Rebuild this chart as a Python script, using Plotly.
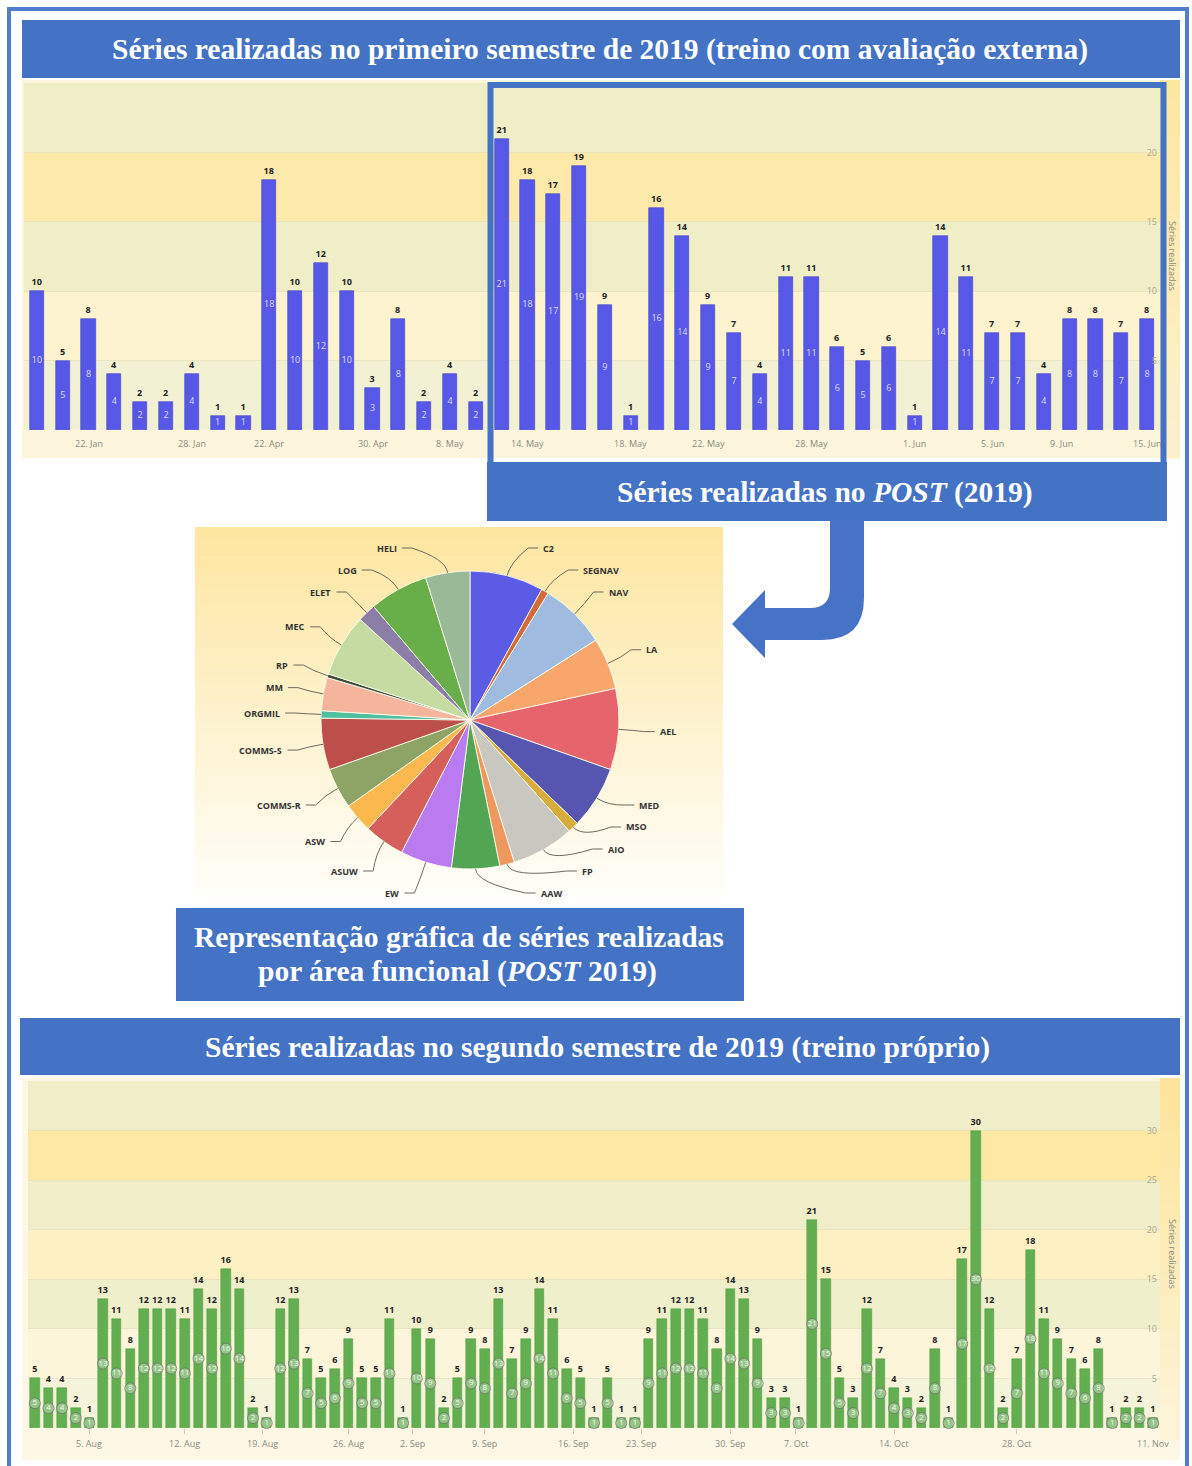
import math
import plotly.graph_objects as go

W, H = 1192, 1466

# ---------------- data ----------------
first_half_values = [10, 5, 8, 4, 2, 2, 4, 1, 1, 18, 10, 12, 10, 3, 8, 2, 4, 2]
post_values = [21, 18, 17, 19, 9, 1, 16, 14, 9, 7, 4, 11, 11, 6, 5, 6, 1, 14, 11, 7, 7,
               4, 8, 8, 7, 8]
top_tick_pos = [2, 6, 9, 13, 16, 19, 23, 26, 30, 34, 37, 39.7, 43]
top_tick_text = ["22. Jan", "28. Jan", "22. Apr", "30. Apr", "8. May", "14. May", "18. May",
                 "22. May", "28. May", "1. Jun", "5. Jun", "9. Jun", "15. Jun"]

second_half_values = [5, 4, 4, 2, 1, 13, 11, 8, 12, 12, 12, 11, 14, 12, 16, 14, 2, 1, 12, 13,
                      7, 5, 6, 9, 5, 5, 11, 1, 10, 9, 2, 5, 9, 8, 13, 7, 9, 14, 11, 6,
                      5, 1, 5, 1, 1, 9, 11, 12, 12, 11, 8, 14, 13, 9, 3, 3, 1, 21, 15, 5,
                      3, 12, 7, 4, 3, 2, 8, 1, 17, 30, 12, 2, 7, 18, 11, 9, 7, 6, 8, 1,
                      2, 2, 1]
bottom_tick_pos = [4, 11, 16.7, 23, 27.7, 33, 39.5, 44.5, 51, 55.8, 63, 72, 82]
bottom_tick_text = ["5. Aug", "12. Aug", "19. Aug", "26. Aug", "2. Sep", "9. Sep", "16. Sep",
                    "23. Sep", "30. Sep", "7. Oct", "14. Oct", "28. Oct", "11. Nov"]

areas = ["C2", "SEGNAV", "NAV", "LA", "AEL", "MED", "MSO", "AIO", "FP", "AAW", "EW", "ASUW",
         "ASW", "COMMS-R", "COMMS-S", "ORGMIL", "MM", "RP", "MEC", "ELET", "LOG", "HELI"]
area_counts = [20, 2, 18, 14, 22, 17, 3, 17, 4, 13, 14, 11, 8, 11, 14, 2, 9, 1, 17, 5, 16, 12]

# ---------------- styles ----------------
area_colors = ["#5b5be6", "#d46a3a", "#9fbbe0", "#f8a66c", "#e6646c", "#5656b0", "#d8ac3c",
               "#c9c8c0", "#ee9860", "#52a552", "#b97bef", "#d65f5c", "#fbb84f", "#8ea466",
               "#bd4f4a", "#4fbfa0", "#f5b59c", "#3d4a3d", "#c5dba2", "#8b7fa8", "#68af4a",
               "#99b997"]
BLUE = "#4472c4"
TITLE_FONT = dict(family="Liberation Serif", size=29.5, color="white", weight="bold")
LABEL_FONT = "Open Sans"
AXIS_FONT = dict(family=LABEL_FONT, size=9, color="#8a8a80")


def fx(p):
    return p / W


def fy(p):
    return 1 - p / H


shapes = []
annotations = []


def hex_rgb(c):
    c = c.lstrip("#")
    return tuple(int(c[i:i + 2], 16) for i in (0, 2, 4))


def mix(c1, c2, t):
    a, b = hex_rgb(c1), hex_rgb(c2)
    return "rgb(%d,%d,%d)" % tuple(round(a[i] + (b[i] - a[i]) * t) for i in range(3))


def rect(x0, y0, x1, y1, fill, layer="below", line=None):
    shapes.append(dict(type="rect", xref="paper", yref="paper",
                       x0=fx(x0), x1=fx(x1), y0=fy(y1), y1=fy(y0),
                       fillcolor=fill, line=line or dict(width=0), layer=layer))


def vgrad(x0, y0, x1, y1, ctop, cbot, n=40):
    step = (y1 - y0) / n
    for i in range(n):
        rect(x0, y0 + i * step, x1, y0 + (i + 1) * step + 0.6, mix(ctop, cbot, i / (n - 1)))


# ---------------- panel backgrounds ----------------
rect(22, 80, 1180, 458, "#fdf5dc")
vgrad(1160, 80, 1180, 458, "#fde6a0", "#fdf1cc", n=20)
rect(22, 1078, 1180, 1460, "#fdf8e6")
vgrad(1160, 1078, 1180, 1440, "#fde49a", "#fdf4d8", n=20)
vgrad(195, 527, 723, 904, "#fde6a0", "#fffefa", n=50)

# horizontal bands behind the bars
top_bands = [(0, 5, "#f3f1d3"), (5, 10, "#fdf3cf"), (10, 15, "#efeec7"),
             (15, 20, "#fde9a9"), (20, 25, "#efeec6")]
for y0, y1, c in top_bands:
    shapes.append(dict(type="rect", xref="x domain", yref="y", x0=0, x1=1, y0=y0, y1=y1,
                       fillcolor=c, line=dict(width=0), layer="below"))
bottom_bands = [(0, 5, "#f5f3da"), (5, 10, "#fdf5da"), (10, 15, "#f0efcc"),
                (15, 20, "#fdf0c2"), (20, 25, "#f0eec8"), (25, 30, "#fde9a4"),
                (30, 35, "#f0eec8")]
for y0, y1, c in bottom_bands:
    shapes.append(dict(type="rect", xref="x2 domain", yref="y2", x0=0, x1=1, y0=y0, y1=y1,
                       fillcolor=c, line=dict(width=0), layer="below"))

fig = go.Figure()

# ---------------- first semester + POST bars ----------------
top_values = first_half_values + post_values
top_x = list(range(len(top_values)))
fig.add_trace(go.Bar(
    x=top_x, y=top_values, width=0.55, xaxis="x", yaxis="y",
    marker=dict(color="#5858e8", line=dict(color="#3f3fc4", width=0.6)),
    text=top_values, textposition="outside", constraintext="none", cliponaxis=False,
    textfont=dict(family=LABEL_FONT, size=9, color="#222", weight="bold"),
    hoverinfo="x+y",
))
fig.add_trace(go.Scatter(
    x=top_x, y=[v / 2 for v in top_values], mode="text", text=top_values,
    xaxis="x", yaxis="y", cliponaxis=False,
    textfont=dict(family=LABEL_FONT, size=9, color="#dcdcf6"), hoverinfo="skip",
))

# ---------------- second semester bars ----------------
bottom_x = list(range(len(second_half_values)))
fig.add_trace(go.Bar(
    x=bottom_x, y=second_half_values, width=0.7, xaxis="x2", yaxis="y2",
    marker=dict(color="#62ae50", line=dict(color="#4f9a40", width=0.5)),
    text=second_half_values, textposition="outside", constraintext="none", cliponaxis=False,
    textfont=dict(family=LABEL_FONT, size=9, color="#222", weight="bold"),
    hoverinfo="x+y",
))
fig.add_trace(go.Scatter(
    x=bottom_x, y=[v / 2 for v in second_half_values], mode="markers+text",
    text=second_half_values, textposition="middle center",
    xaxis="x2", yaxis="y2", cliponaxis=False,
    marker=dict(symbol="circle", size=11, color="rgba(240,240,230,0.35)",
                line=dict(color="rgba(110,110,110,0.75)", width=1)),
    textfont=dict(family=LABEL_FONT, size=8, color="#f6f6f6"), hoverinfo="skip",
))

# date labels under both bar charts
for pos, txt in zip(top_tick_pos, top_tick_text):
    annotations.append(dict(x=pos, y=fy(443), xref="x", yref="paper", text=txt,
                            showarrow=False, xanchor="center", yanchor="middle",
                            font=AXIS_FONT))
for pos, txt in zip(bottom_tick_pos, bottom_tick_text):
    annotations.append(dict(x=pos, y=fy(1443), xref="x2", yref="paper", text=txt,
                            showarrow=False, xanchor="center", yanchor="middle",
                            font=AXIS_FONT))

# vertical axis titles on the right
for yc in (256, 1254):
    annotations.append(dict(x=fx(1173), y=fy(yc), xref="paper", yref="paper",
                            text="Séries realizadas", textangle=90, showarrow=False,
                            xanchor="center", yanchor="middle",
                            font=dict(family=LABEL_FONT, size=9, color="#8a8a80")))

# ---------------- functional-area pie ----------------
CX, CY, R = 470, 720, 149
fig.add_trace(go.Pie(
    labels=areas, values=area_counts, sort=False, direction="clockwise", rotation=0,
    domain=dict(x=[fx(CX - R), fx(CX + R)], y=[fy(CY + R), fy(CY - R)]),
    marker=dict(colors=area_colors, line=dict(color="rgba(255,255,240,0.85)", width=1)),
    textinfo="none", hoverinfo="label+value", showlegend=False,
))

# outside labels with soft connectors, spread vertically so they do not collide
total = sum(area_counts)
mids, cum = [], 0
for v in area_counts:
    mids.append(360.0 * (cum + v / 2) / total)
    cum += v
RL = 185
YMIN, YMAX, GAP = 548, 893, 22


def spread(idx):
    idx = sorted(idx, key=lambda i: CY - RL * math.cos(math.radians(mids[i])))
    ys = [CY - RL * math.cos(math.radians(mids[i])) for i in idx]
    for k in range(len(ys)):
        ys[k] = max(ys[k], YMIN if k == 0 else ys[k - 1] + GAP)
    for k in range(len(ys) - 1, -1, -1):
        ys[k] = min(ys[k], YMAX if k == len(ys) - 1 else ys[k + 1] - GAP)
    return dict(zip(idx, ys))


label_y = {}
label_y.update(spread([i for i, m in enumerate(mids) if m < 180]))
label_y.update(spread([i for i, m in enumerate(mids) if m >= 180]))

for i, name in enumerate(areas):
    m = math.radians(mids[i])
    right = mids[i] < 180
    ly = label_y[i]
    dx = math.sqrt(max(RL ** 2 - (ly - CY) ** 2, 0))
    lx = CX + dx if right else CX - dx
    ex, ey = CX + R * math.sin(m), CY - R * math.cos(m)
    bx, by = CX + (R + 14) * math.sin(m), CY - (R + 14) * math.cos(m)
    sx = lx - 10 if right else lx + 10
    path = "M %.5f,%.5f L %.5f,%.5f Q %.5f,%.5f %.5f,%.5f" % (
        fx(lx), fy(ly), fx(sx), fy(ly), fx(bx), fy(by), fx(ex), fy(ey))
    shapes.append(dict(type="path", xref="paper", yref="paper", path=path,
                       line=dict(color="#6a6a60", width=1), layer="above"))
    annotations.append(dict(
        x=fx(lx + 3 if right else lx - 3), y=fy(ly), xref="paper", yref="paper",
        text=name, showarrow=False, xanchor="left" if right else "right", yanchor="middle",
        font=dict(family=LABEL_FONT, size=9, color="#333", weight="bold"),
    ))

# ---------------- title bars ----------------
rect(22, 20, 1180, 78, BLUE, layer="above")
rect(487, 462, 1167, 521, BLUE, layer="above")
rect(176, 908, 744, 1001, BLUE, layer="above")
rect(20, 1018, 1180, 1075, BLUE, layer="above")


def title(x, y, text):
    annotations.append(dict(x=fx(x), y=fy(y), xref="paper", yref="paper", text=text,
                            showarrow=False, xanchor="center", yanchor="middle",
                            font=TITLE_FONT))


title(600, 49, "Séries realizadas no primeiro semestre de 2019 (treino com avaliação externa)")
title(825, 492, "Séries realizadas no <i>POST</i> (2019)")
title(459, 937, "Representação gráfica de séries realizadas")
title(457, 971, "por área funcional (<i>POST</i> 2019)")
title(597, 1047, "Séries realizadas no segundo semestre de 2019 (treino próprio)")

# frame around the POST period
shapes.append(dict(type="rect", xref="paper", yref="paper",
                   x0=fx(490.5), x1=fx(1163.5), y0=fy(465), y1=fy(85),
                   line=dict(color=BLUE, width=6), fillcolor="rgba(0,0,0,0)", layer="above"))

# bent arrow from the POST box towards the pie
arrow_pts = [("M", 830, 520), ("L", 864, 520), ("L", 864, 598), ("Q", 864, 640, 822, 640),
             ("L", 765, 640), ("L", 765, 658), ("L", 732, 624), ("L", 765, 590),
             ("L", 765, 608), ("L", 810, 608), ("Q", 830, 608, 830, 588)]
parts = []
for p in arrow_pts:
    cmd, coords = p[0], p[1:]
    pts = ["%.5f,%.5f" % (fx(coords[k]), fy(coords[k + 1])) for k in range(0, len(coords), 2)]
    parts.append(cmd + " " + " ".join(pts))
shapes.append(dict(type="path", xref="paper", yref="paper", path=" ".join(parts) + " Z",
                   fillcolor="#4773c6", line=dict(width=0), layer="above"))

# outer page border
shapes.append(dict(type="rect", xref="paper", yref="paper",
                   x0=fx(9), x1=fx(1187), y0=fy(1490), y1=fy(9),
                   line=dict(color="#4f7fc8", width=4), fillcolor="rgba(0,0,0,0)", layer="above"))

fig.update_layout(
    width=W, height=H, autosize=False, margin=dict(l=0, r=0, t=0, b=0, pad=0),
    paper_bgcolor="white", plot_bgcolor="rgba(0,0,0,0)", showlegend=False,
    bargap=0,
    xaxis=dict(domain=[fx(24), fx(1160)], range=[-0.5, 43.5], anchor="y",
               showticklabels=False, showgrid=False, zeroline=False, showline=False,
               ticks="", fixedrange=True),
    yaxis=dict(domain=[fy(430), fy(83)], range=[0, 25], anchor="x", side="right",
               ticklabelposition="inside", tickvals=[0, 5, 10, 15, 20],
               showgrid=True, gridcolor="rgba(220,215,175,0.5)", zeroline=False,
               tickfont=dict(family=LABEL_FONT, size=9, color="#a8a89a"),
               fixedrange=True),
    xaxis2=dict(domain=[fx(28), fx(1160)], range=[-0.5, 82.5], anchor="y2",
                tickmode="array", tickvals=bottom_tick_pos, showticklabels=False,
                showgrid=False, zeroline=False, showline=False, ticks="outside",
                ticklen=5, tickcolor="#d0ccb0", fixedrange=True),
    yaxis2=dict(domain=[fy(1428), fy(1081)], range=[0, 35], anchor="x2", side="right",
                ticklabelposition="inside", tickvals=[5, 10, 15, 20, 25, 30],
                showgrid=True, gridcolor="rgba(220,215,175,0.5)", zeroline=False,
                tickfont=dict(family=LABEL_FONT, size=9, color="#a8a89a"),
                fixedrange=True),
    shapes=shapes, annotations=annotations,
)

fig.write_html("out.html")
